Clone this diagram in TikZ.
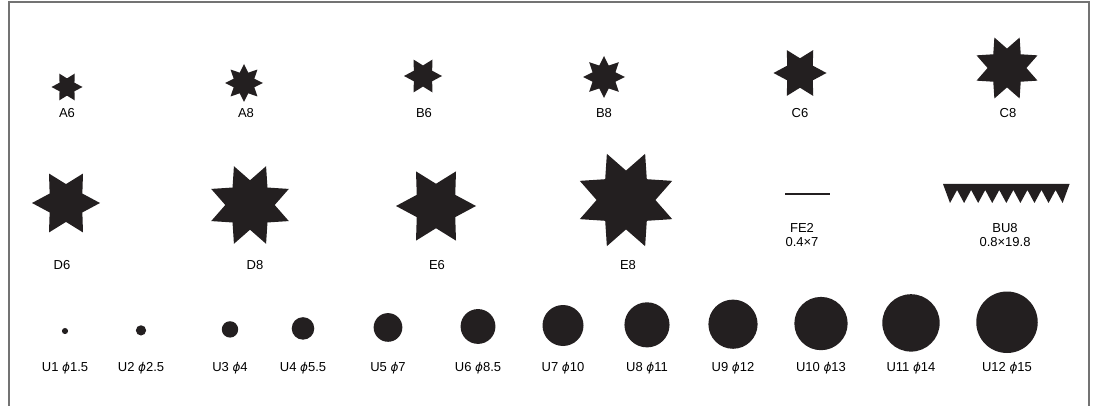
\documentclass[tikz,border=0pt]{standalone}
\usepackage{fontspec}
\setmainfont{Liberation Sans}
\newfontfamily\phifont{DejaVu Sans}
\usetikzlibrary{shapes.geometric}
\definecolor{punchblack}{HTML}{231F20}
\newcommand{\diam}{{\phifont\itshape\fontsize{12}{14}\selectfont ϕ}}

\begin{document}
\begin{tikzpicture}[x=1pt,y=-1pt]
    \tikzstyle{punch}=[fill=punchblack,inner sep=0pt,outer sep=0pt]
    \tikzstyle{star six}=[punch,star,star points=6,star point ratio=1.8,rotate=30]
    \tikzstyle{star eight}=[punch,star,star points=8,star point ratio=1.7]
    \tikzstyle{star eight turned}=[star eight,rotate=22.5]
    \tikzstyle{caption}=[font=\fontsize{13}{14}\selectfont,inner sep=0pt,align=center];
    \useasboundingbox (0,0) rectangle (1098,406);
    % frame
    \draw[black!55,line width=1.3pt] (9,410) -- (9,2) -- (1089,2) -- (1089,410);
    % first row of stars
      \node[star six,  minimum size=31pt] (A6) at (67,87) {};
      \node[star eight,minimum size=38pt] (A8) at (244,83) {};
      \node[star six,  minimum size=38pt] (B6) at (423,76) {};
      \node[star eight,minimum size=42pt] (B8) at (604,77) {};
      \node[star six,  minimum size=53pt] (C6) at (800,73) {};
      \node[star eight turned,minimum size=66pt] (C8) at (1007,68) {};
      \foreach \name/\x in {A6/67,A8/246,B6/424,B8/604,C6/800,C8/1008}
        \node[caption] (\name-label) at (\x,113) {\name};
    % second row
      \node[star six,  minimum size=68pt] (D6) at (66,203) {};
      \node[star eight turned,minimum size=84pt] (D8) at (250,205) {};
      \node[star six,  minimum size=80pt] (E6) at (436,206) {};
      \node[star eight turned,minimum size=100pt] (E8) at (626,200) {};
      \foreach \name/\x in {D6/62,D8/255,E6/437,E8/628}
        \node[caption] (\name-label) at (\x,265) {\name};
      \node[punch,minimum width=45pt,minimum height=2.5pt] (FE2) at (807.5,194) {};
      \node[caption] (FE2-label) at (802,235) {FE2\\0.4×7};
      \fill[punchblack] (943,184) -- (1069.6,184)
        \foreach \k in {8,...,1} { -- ({943+(\k+0.5)*14.07},203) -- ({943+\k*14.07},190) }
        -- (950,203) -- cycle;
      \coordinate (BU8) at (1006,194);
      \node[caption] (BU8-label) at (1005,235) {BU8\\0.8×19.8};
    % round punches
      \foreach \n/\x/\d in {1/65/1.5,2/141/2.5,3/230/4,4/303/5.5,5/388/7,6/478/8.5,
                            7/563/10,8/647/11,9/733/12,10/821/13,11/911/14,12/1007/15} {
        \node[punch,circle,minimum size={\d*4.1pt}] (U\n) at (\x,{332-0.65*\d}) {};
        \node[caption] (U\n-label) at (\x,368) {U\n~\diam\d};
      }
\end{tikzpicture}
\end{document}
